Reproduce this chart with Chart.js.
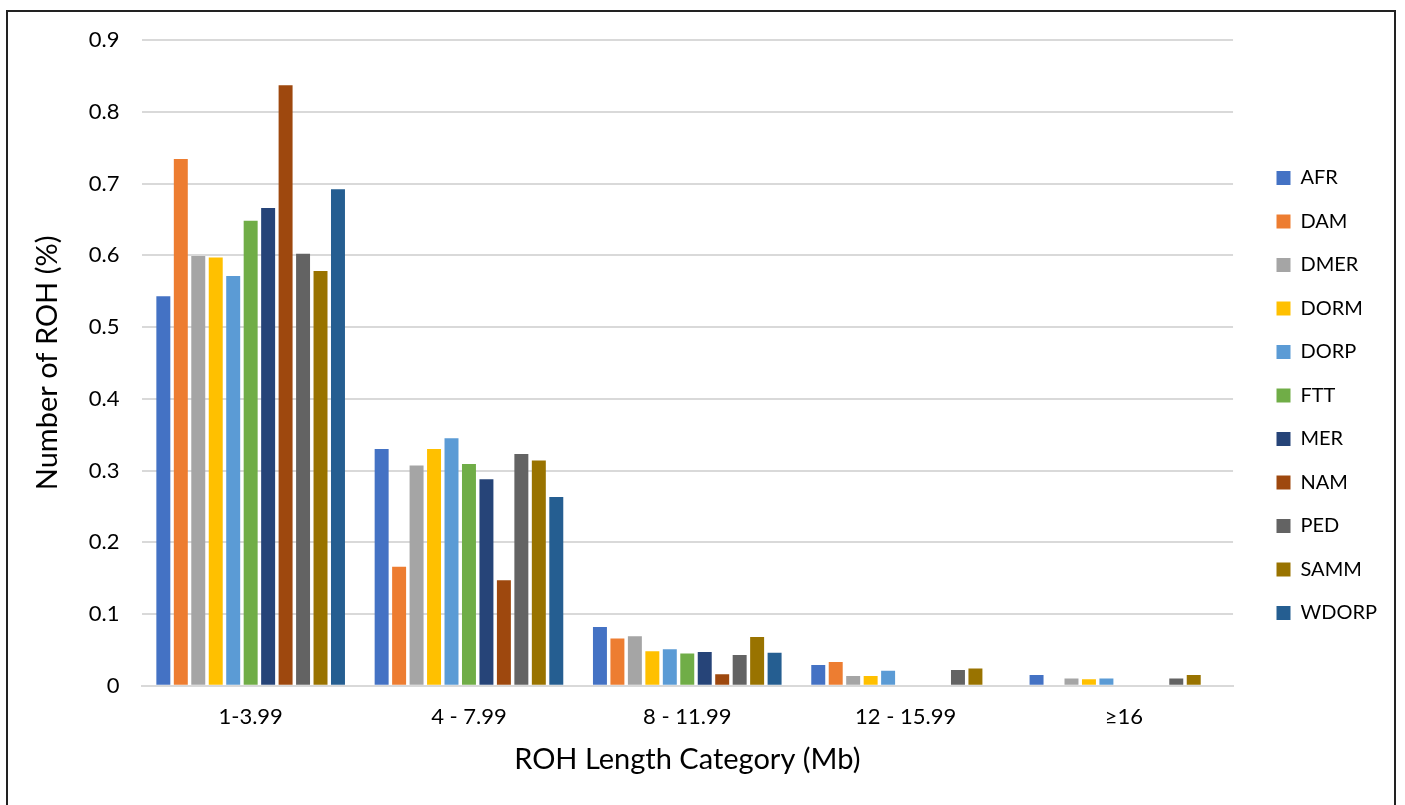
<!DOCTYPE html>
<html>
<head>
<meta charset="utf-8">
<script src="https://cdn.jsdelivr.net/npm/chart.js@4"></script>
<style>
  html, body { margin: 0; padding: 0; background: #fff; }
  #wrap { position: relative; width: 1405px; height: 805px; overflow: hidden; }
  #frame { position: absolute; left: 6px; top: 10px; width: 1390px; height: 820px; border: 2px solid #222; box-sizing: border-box; pointer-events: none; }
  canvas { position: absolute; left: 0; top: 0; }
</style>
</head>
<body>
<div id="wrap">
  <canvas id="rohChart" width="1405" height="805"></canvas>
  <div id="frame"></div>
</div>
<script>
const categories = ["1-3.99", "4 - 7.99", "8 - 11.99", "12 - 15.99", "\u226516"];

const AFR   = [0.543, 0.330, 0.082, 0.029, 0.015];
const DAM   = [0.734, 0.166, 0.066, 0.033, 0];
const DMER  = [0.599, 0.307, 0.069, 0.0135, 0.010];
const DORM  = [0.597, 0.330, 0.048, 0.0135, 0.009];
const DORP  = [0.571, 0.345, 0.051, 0.021, 0.010];
const FTT   = [0.648, 0.309, 0.045, 0, 0];
const MER   = [0.666, 0.288, 0.047, 0, 0];
const NAM   = [0.837, 0.147, 0.016, 0, 0];
const PED   = [0.602, 0.323, 0.043, 0.022, 0.010];
const SAMM  = [0.578, 0.314, 0.068, 0.024, 0.015];
const WDORP = [0.692, 0.263, 0.046, 0, 0];

const yTicks = [0, 0.1, 0.2, 0.3, 0.4, 0.5, 0.6, 0.7, 0.8, 0.9];

const COLORS = {
  AFR:   "#4472c4",
  DAM:   "#ed7d31",
  DMER:  "#a5a5a5",
  DORM:  "#ffc000",
  DORP:  "#5b9bd5",
  FTT:   "#70ad47",
  MER:   "#264478",
  NAM:   "#9e480e",
  PED:   "#636363",
  SAMM:  "#997300",
  WDORP: "#255e91",
};

const series = [
  ["AFR", AFR], ["DAM", DAM], ["DMER", DMER], ["DORM", DORM], ["DORP", DORP],
  ["FTT", FTT], ["MER", MER], ["NAM", NAM], ["PED", PED], ["SAMM", SAMM], ["WDORP", WDORP]
];

const FONT = "Lato, 'Open Sans', sans-serif";
const GRID = "#d9d9d9";

// nudge the legend block to where Excel puts it
const legendShift = {
  id: "legendShift",
  afterLayout(chart) {
    const lg = chart.legend;
    const dx = 1253 - lg.left;
    const dy = -15;
    lg.left += dx; lg.right += dx;
    lg.top += dy; lg.bottom += dy;
  }
};

new Chart(document.getElementById("rohChart"), {
  type: "bar",
  data: {
    labels: categories,
    datasets: series.map(([name, vals]) => ({
      label: name,
      data: vals,
      backgroundColor: COLORS[name],
      borderWidth: 0,
      categoryPercentage: 0.88,
      barPercentage: 0.8
    }))
  },
  options: {
    responsive: false,
    animation: false,
    layout: { padding: { top: 40, right: 38, bottom: 24, left: 26 } },
    plugins: {
      tooltip: { enabled: false },
      legend: {
        position: "right",
        labels: {
          color: "#000",
          font: { family: FONT, size: 20 },
          boxWidth: 14,
          boxHeight: 14,
          padding: 23.5
        }
      }
    },
    scales: {
      x: {
        grid: { display: false },
        border: { color: GRID, width: 2 },
        ticks: { color: "#000", font: { family: FONT, size: 22 }, padding: 10 },
        title: { display: true, text: "ROH Length Category (Mb)", color: "#000", font: { family: FONT, size: 29 }, padding: { top: 2 } }
      },
      y: {
        min: 0,
        max: 0.9,
        afterBuildTicks: axis => { axis.ticks = yTicks.map(v => ({ value: v })); },
        grid: { color: GRID, lineWidth: 2, drawTicks: false },
        border: { display: false },
        ticks: { color: "#000", font: { family: FONT, size: 22 }, padding: 22, callback: v => String(Math.round(v * 10) / 10) },
        title: { display: true, text: "Number of ROH (%)", color: "#000", font: { family: FONT, size: 29 }, padding: { bottom: 2 } }
      }
    }
  },
  plugins: [legendShift]
});
</script>
</body>
</html>
